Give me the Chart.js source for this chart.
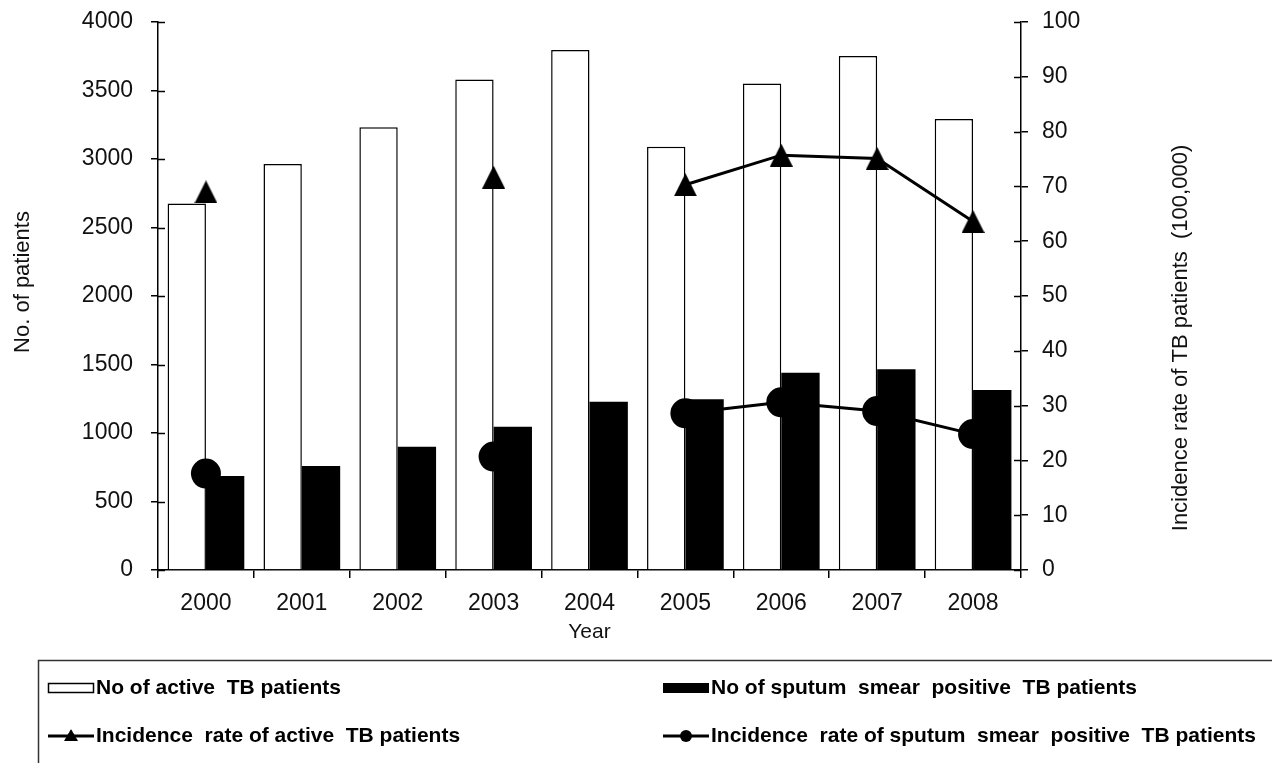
<!DOCTYPE html>
<html>
<head>
<meta charset="utf-8">
<script src="https://cdn.jsdelivr.net/npm/chart.js@4.4.0/dist/chart.umd.min.js"></script>
<style>
  html, body { margin: 0; padding: 0; background: #fff; }
  #wrap { width: 1272px; height: 763px; }
</style>
</head>
<body>
<div id="wrap"><canvas id="tbChart" width="1272" height="763"></canvas></div>
<script>
// values
const years = ['2000', '2001', '2002', '2003', '2004', '2005', '2006', '2007', '2008'];
const activePatients = [2676, 2963, 3231, 3581, 3796, 3090, 3552, 3752, 3292];
const smearPatients = [686, 759, 900, 1046, 1228, 1246, 1440, 1465, 1314];
const activeRate = [69.0, null, null, 71.7, null, 70.3, 75.7, 75.1, 63.6];
const smearRate = [17.6, null, null, 20.7, null, 28.6, 30.6, 29.0, 24.8];

const leftAxis = { min: 0, max: 4000, step: 500, title: 'No. of patients' };
const rightAxis = { min: 0, max: 100, step: 10, title: 'Incidence rate of TB patients  (100,000)' };
const xTitle = 'Year';

const FONT = '"Liberation Sans", Arial, sans-serif';
Chart.defaults.font.family = FONT;
Chart.defaults.color = '#111';

// excel-like triangle marker, centred on its bounding box
function makeTriangle(w, h) {
  const c = document.createElement('canvas');
  c.width = w;
  c.height = h;
  const g = c.getContext('2d');
  g.fillStyle = '#000';
  g.beginPath();
  g.moveTo(w / 2, 0);
  g.lineTo(w, h);
  g.lineTo(0, h);
  g.closePath();
  g.fill();
  return c;
}
const triangle = makeTriangle(23, 23);

// ticks crossing the y axes, axis titles and the boxed legend
const extras = {
  id: 'extras',
  afterDraw(chart) {
    const ctx = chart.ctx;
    const area = chart.chartArea;
    ctx.save();

    ctx.strokeStyle = '#000';
    ctx.lineWidth = 1.5;
    ['y', 'y1'].forEach(id => {
      const s = chart.scales[id];
      const x = id === 'y' ? area.left : area.right;
      const dir = id === 'y' ? 1 : -1;
      s.ticks.forEach((t, i) => {
        const py = Math.round(s.getPixelForTick(i)) + 0.5;
        ctx.beginPath();
        ctx.moveTo(x, py);
        ctx.lineTo(x + dir * 7, py);
        ctx.stroke();
      });
    });

    ctx.fillStyle = '#111';
    ctx.font = '22px ' + FONT;
    ctx.textAlign = 'center';
    ctx.textBaseline = 'middle';
    [[leftAxis.title, 23, 282], [rightAxis.title, 1181, 338]].forEach(([txt, x, y]) => {
      ctx.save();
      ctx.translate(x, y);
      ctx.rotate(-Math.PI / 2);
      ctx.fillText(txt, 0, 0);
      ctx.restore();
    });

    // legend
    ctx.strokeStyle = '#333';
    ctx.lineWidth = 1.5;
    ctx.strokeRect(38.5, 660.5, 1240, 200);
    const cols = [48, 663];
    const rows = [688, 736];
    ctx.font = 'bold 21px ' + FONT;
    ctx.textAlign = 'left';
    chart.data.datasets.forEach((ds, i) => {
      const x = cols[i % 2];
      const y = rows[Math.floor(i / 2)];
      if (ds.type === 'bar') {
        ctx.fillStyle = ds.backgroundColor;
        ctx.fillRect(x, y - 5, 46, 10);
        if (ds.borderWidth) {
          ctx.strokeStyle = '#000';
          ctx.lineWidth = 1.5;
          ctx.strokeRect(x + 0.5, y - 4.5, 45, 9);
        }
      } else {
        ctx.strokeStyle = '#000';
        ctx.lineWidth = 3;
        ctx.beginPath();
        ctx.moveTo(x, y);
        ctx.lineTo(x + 46, y);
        ctx.stroke();
        ctx.fillStyle = '#000';
        if (ds.pointStyle === 'circle') {
          ctx.beginPath();
          ctx.arc(x + 23, y, 6, 0, Math.PI * 2);
          ctx.fill();
        } else {
          ctx.drawImage(ds.pointStyle, x + 16, y - 7, 14, 12);
        }
      }
      ctx.fillStyle = '#000';
      ctx.fillText(ds.label, x + 48, y);
    });

    ctx.restore();
  }
};

const plainNumber = v => String(v);

// fixed axis box sizes so the plot area sits where the original's does
function fixVertical(width) {
  return scale => {
    scale.width = width;
    scale.paddingTop = 0;
    scale.paddingBottom = 0;
  };
}

new Chart(document.getElementById('tbChart'), {
  type: 'bar',
  data: {
    labels: years,
    datasets: [
      {
        type: 'bar',
        label: 'No of active  TB patients',
        data: activePatients,
        backgroundColor: '#fff',
        borderColor: '#000',
        borderWidth: 1.5,
        yAxisID: 'y',
        order: 1,
      },
      {
        type: 'bar',
        label: 'No of sputum  smear  positive  TB patients',
        data: smearPatients,
        backgroundColor: '#000',
        borderWidth: 0,
        yAxisID: 'y',
        order: 1,
      },
      {
        type: 'line',
        label: 'Incidence  rate of active  TB patients',
        data: activeRate,
        borderColor: '#000',
        borderWidth: 3,
        pointStyle: triangle,
        pointRadius: 12,
        spanGaps: false,
        tension: 0,
        yAxisID: 'y1',
        order: 0,
      },
      {
        type: 'line',
        label: 'Incidence  rate of sputum  smear  positive  TB patients',
        data: smearRate,
        borderColor: '#000',
        borderWidth: 3,
        pointStyle: 'circle',
        pointRadius: 15,
        pointBackgroundColor: '#000',
        pointBorderWidth: 0,
        spanGaps: false,
        tension: 0,
        yAxisID: 'y1',
        order: 0,
      },
    ],
  },
  options: {
    responsive: false,
    animation: false,
    events: [],
    layout: { autoPadding: false, padding: { top: 22, left: 0, right: 0, bottom: 118 } },
    datasets: { bar: { categoryPercentage: 0.8, barPercentage: 1.0 } },
    plugins: {
      legend: { display: false },
      tooltip: { enabled: false },
    },
    scales: {
      x: {
        type: 'category',
        offset: true,
        grid: { offset: true, drawOnChartArea: false, color: '#000', lineWidth: 1.5, tickLength: 8 },
        border: { color: '#000', width: 1.5 },
        ticks: { font: { size: 23 }, color: '#111', padding: 12, maxRotation: 0 },
        title: { display: true, text: xTitle, font: { size: 21 }, color: '#111', padding: { top: 0, bottom: 0 } },
        afterFit(scale) { scale.height = 75; },
      },
      y: {
        position: 'left',
        min: leftAxis.min,
        max: leftAxis.max,
        ticks: { stepSize: leftAxis.step, font: { size: 23 }, color: '#111', padding: 18, callback: plainNumber },
        grid: { drawOnChartArea: false, color: '#000', lineWidth: 1.5, tickLength: 7 },
        border: { color: '#000', width: 1.5 },
        afterFit: fixVertical(158),
      },
      y1: {
        position: 'right',
        min: rightAxis.min,
        max: rightAxis.max,
        ticks: { stepSize: rightAxis.step, font: { size: 23 }, color: '#111', padding: 14, callback: plainNumber },
        grid: { drawOnChartArea: false, color: '#000', lineWidth: 1.5, tickLength: 7 },
        border: { color: '#000', width: 1.5 },
        afterFit: fixVertical(251),
      },
    },
  },
  plugins: [extras],
});
</script>
</body>
</html>
